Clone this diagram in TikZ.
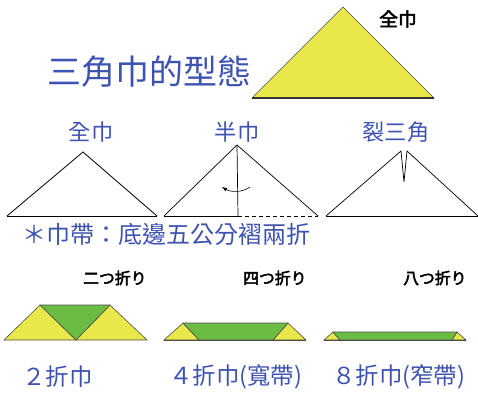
\documentclass[tikz,border=0pt]{standalone}
\usepackage{fontspec}
\usepackage{tikz}
\usetikzlibrary{positioning}
\newfontfamily\cjk{Noto Sans CJK TC}
\newfontfamily\cjkjp[FakeBold=3]{Noto Sans CJK JP}
\definecolor{sling}{RGB}{232,232,74}
\definecolor{fold}{RGB}{108,188,68}
\definecolor{ink}{RGB}{62,82,178}

\begin{document}
\begin{tikzpicture}[x=0.03cm,y=-0.03cm]
\tikzset{
  lab/.style={text=ink,font=\cjk\fontsize{20}{20}\selectfont,inner sep=0pt},
  tag/.style={font=\cjkjp\fontsize{13.5}{14}\selectfont,inner sep=0pt},
  cloth/.style={fill=sling,draw=black!70,line width=0.5pt},
  band/.style={fill=fold,draw=black!70,line width=0.5pt}}
\useasboundingbox(0,0)rectangle(478,394);

% heading and the whole sling
\node[lab,anchor=west,font=\cjk\fontsize{29}{29}\selectfont](T0)at(47,72){三角巾的型態};
\draw[cloth](252,98)--(343,7)--(434,98)--cycle;
\draw[line width=1.2pt,black!80](252,98)--(434,98);
\node[tag,font=\cjkjp\fontsize{16}{16}\selectfont](S0)at(398,19){全巾};

% three ways of folding
\node[lab,font=\cjk\fontsize{19}{19}\selectfont](T1)at(91,132){全巾};
\node[lab,font=\cjk\fontsize{19}{19}\selectfont](T2)at(237,132){半巾};
\node[lab,font=\cjk\fontsize{19}{19}\selectfont](T3)at(396,132){裂三角};

\draw[line width=0.7pt](7,216)--(83,152)--(157,216);
\draw[line width=0.4pt](7,216)--(157,216);

\coordinate(H1)at(237,145);
\coordinate(H2)at(238,216);
\draw[line width=0.6pt](164,216)--(H1)--(318,216);
\draw[line width=0.6pt](H1)--(H2);
\draw[line width=0.5pt](164,216)--(H2);
\draw[line width=0.5pt,dashed](H2)--(318,216);
\draw[-latex,line width=0.5pt](250,187)..controls(242,193)and(230,192)..(222,187);

\draw[line width=0.6pt](326,216)--(401,151)--(404,182)--(407,151)--(478,216);
\draw[line width=0.4pt](326,216)--(478,216);

\node[lab,anchor=west,font=\cjk\fontsize{20.5}{21}\selectfont](N1)at(22,234){＊巾帶：底邊五公分褶兩折};

% bands
\node[tag,anchor=west](F1)at(83,278){二つ折り};
\node[tag,anchor=west](F2)at(243,278){四つ折り};
\node[tag,anchor=west](F3)at(403,278){八つ折り};

\draw[cloth](4,340)--(40,305)--(76,340)--cycle;
\draw[cloth](76,340)--(110,305)--(147,340)--cycle;
\draw[band](40,305)--(110,305)--(76,340)--cycle;

\draw[cloth](164,340)--(183,323)--(199,340)--cycle;
\draw[cloth](273,340)--(288,323)--(306,340)--cycle;
\draw[band](183,323)--(288,323)--(273,340)--(199,340)--cycle;
\draw[line width=0.8pt,black!70](164,340)--(306,340);

\draw[cloth](324,340)--(333,332)--(340,340)--cycle;
\draw[cloth](452,340)--(457,332)--(466,340)--cycle;
\draw[band](333,332)--(457,332)--(452,340)--(340,340)--cycle;
\draw[line width=0.8pt,black!70](324,340)--(466,340);

\node[lab,anchor=west](B1)at(22,377){２折巾};
\node[lab,anchor=west](B2)at(169,377){４折巾(寬帶)};
\node[lab,anchor=west](B3)at(332,377){８折巾(窄帶)};
\end{tikzpicture}
\end{document}
